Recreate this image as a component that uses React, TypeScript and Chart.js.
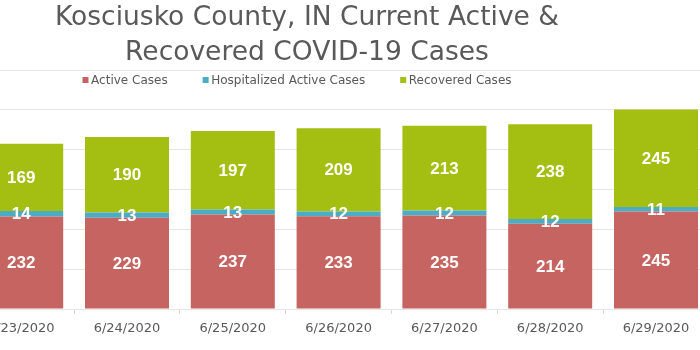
import React, { useEffect, useRef } from "react";
import { Chart, registerables } from "chart.js";

Chart.register(...registerables);

const categories = ["6/23/2020", "6/24/2020", "6/25/2020", "6/26/2020", "6/27/2020", "6/28/2020", "6/29/2020"];
const activeCases = [232, 229, 237, 233, 235, 214, 245];
const hospitalizedCases = [14, 13, 13, 12, 12, 12, 11];
const recoveredCases = [169, 190, 197, 209, 213, 238, 245];
const seriesNames = ["Active Cases", "Hospitalized Active Cases", "Recovered Cases"];
const seriesColors = ["#C66461", "#4BACC6", "#A5BE12"];
const titleLines = ["Kosciusko County, IN Current Active &", "Recovered COVID-19 Cases"];
const yMin = 0;
const yMax = 600;
const yStep = 100;

const TEXT_COLOR = "#595959";
const CANVAS_OFFSET = 40;

const titleLegendPlugin = {
  id: "titleLegend",
  afterDraw(chart: any) {
    const ctx = chart.ctx;
    ctx.save();
    // title
    ctx.fillStyle = TEXT_COLOR;
    ctx.font = "26.5px 'DejaVu Sans'";
    ctx.textAlign = "center";
    ctx.textBaseline = "alphabetic";
    const cx = 307 + CANVAS_OFFSET;
    ctx.fillText(titleLines[0], cx, 24.5);
    ctx.fillText(titleLines[1], cx, 59.5);
    // legend
    ctx.font = "12px 'DejaVu Sans'";
    ctx.textAlign = "left";
    const box = 6;
    const gap = 2.6;
    const spacing = 35;
    const widths = seriesNames.map((n) => box + gap + ctx.measureText(n).width);
    const total = widths.reduce((a, b) => a + b, 0) + spacing * (widths.length - 1);
    let x = 297 + CANVAS_OFFSET - total / 2;
    seriesNames.forEach((n, i) => {
      ctx.fillStyle = seriesColors[i];
      ctx.fillRect(x, 77, box, box);
      ctx.fillStyle = TEXT_COLOR;
      ctx.fillText(n, x + box + gap, 84);
      x += widths[i] + spacing;
    });
    ctx.restore();
  },
};

const dataLabelPlugin = {
  id: "dataLabels",
  afterDatasetsDraw(chart: any) {
    const ctx = chart.ctx;
    ctx.save();
    ctx.fillStyle = "#FFFFFF";
    ctx.font = "bold 17px 'Liberation Sans'";
    ctx.textAlign = "center";
    ctx.textBaseline = "middle";
    chart.data.datasets.forEach((ds: any, di: number) => {
      const meta = chart.getDatasetMeta(di);
      meta.data.forEach((el: any, i: number) => {
        const y = (el.y + el.base) / 2;
        ctx.fillText(String(ds.data[i]), el.x, y + 1);
      });
    });
    ctx.restore();
  },
};

export default function App() {
  const ref = useRef<HTMLCanvasElement | null>(null);
  useEffect(() => {
    if (!ref.current) return;
    const chart = new Chart(ref.current, {
      type: "bar",
      data: {
        labels: categories,
        datasets: [
          { label: seriesNames[0], data: activeCases, backgroundColor: seriesColors[0] },
          { label: seriesNames[1], data: hospitalizedCases, backgroundColor: seriesColors[1] },
          { label: seriesNames[2], data: recoveredCases, backgroundColor: seriesColors[2] },
        ],
      },
      options: {
        responsive: false,
        animation: false,
        devicePixelRatio: 1,
        datasets: { bar: { barPercentage: 0.794, categoryPercentage: 1 } },
        layout: { padding: { left: 8.3, right: 11.1, top: 70, bottom: 0 } },
        plugins: { legend: { display: false }, title: { display: false }, tooltip: { enabled: false } },
        scales: {
          x: {
            stacked: true,
            offset: true,
            grid: { display: true, drawOnChartArea: false, drawTicks: true, tickLength: 5, color: "#D9D9D9", offset: true },
            border: { display: false },
            ticks: {
              autoSkip: false,
              maxRotation: 0,
              minRotation: 0,
              padding: 7,
              color: TEXT_COLOR,
              font: { family: "'DejaVu Sans'", size: 13 },
            },
            afterFit: (scale: any) => {
              scale.height = 41;
            },
          },
          y: {
            stacked: true,
            min: yMin,
            max: yMax,
            ticks: { display: false, stepSize: yStep },
            grid: { color: "#E6E6E6", drawTicks: false },
            border: { display: false },
            afterFit: (scale: any) => {
              scale.width = 0;
            },
          },
        },
      },
      plugins: [dataLabelPlugin, titleLegendPlugin],
    });
    return () => chart.destroy();
  }, []);

  return (
    <div style={{ position: "absolute", left: 0, top: 0, width: 700, height: 350, overflow: "hidden", background: "#FFFFFF" }}>
      <canvas ref={ref} width={760} height={350} style={{ position: "absolute", left: -CANVAS_OFFSET, top: 0, width: 760, height: 350 }} />
    </div>
  );
}
